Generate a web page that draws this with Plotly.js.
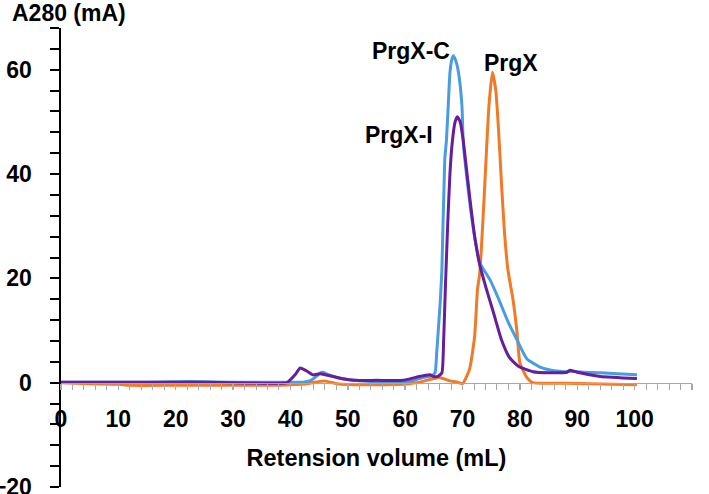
<!DOCTYPE html>
<html><head><meta charset="utf-8">
<script src="https://cdn.plot.ly/plotly-3.0.1.min.js"></script>
<style>html,body{margin:0;padding:0;background:#fff}</style>
</head><body><div id="chart" style="width:709px;height:494px"></div>
<script>
// Retention volume (mL) and A280 (mA) for each construct
const prgxC_x = [0,5,10,15,20,25,30,35,40,42.2,43.5,44.5,45.2,45.7,46.5,48.1,50,53.9,57,60.8,63.1,64.6,65.2,65.5,66.1,66.4,66.9,67.2,67.5,67.8,68.1,68.4,68.8,69.3,69.9,70.1,70.4,71.2,72.1,73.0,74.8,76.5,78.0,79.5,81.2,83.5,85.5,88.2,88.8,91,94,97,100.4];
const prgxC_y = [0.1,0.1,0.1,0.1,0.2,0.2,0.1,0.1,0.1,0.1,0.4,1.2,1.9,2.0,1.6,1.0,0.6,0.25,0.25,0.25,1.0,1.3,1.9,5.8,15.3,21.7,42.8,46.6,53.0,59.4,61.8,62.7,61.8,59.4,53.0,46.6,42.8,35,28,23,19.7,15.5,11.5,8.2,4.6,3.0,2.4,2.1,2.2,2.0,1.9,1.7,1.5];

const prgxI_x = [0,5,10,15,20,25,30,35,38,39.4,40.8,41.7,42.9,43.9,45.2,48.1,50.9,55,59.6,62.1,64.3,64.9,65.7,66.4,66.7,67.0,67.4,67.8,68.2,68.7,69.1,69.6,70.1,70.5,71.3,72.2,73.0,74.2,75.4,76.8,78.2,79.8,82.3,85,88.2,88.7,90,94,100.4];
const prgxI_y = [0.1,0.1,0.1,0.1,0.1,0.1,0.0,-0.1,-0.1,0.0,1.5,2.8,2.2,1.5,1.7,1.0,0.45,0.45,0.45,1.1,1.5,1.2,1.2,1.9,8,18,30,40,46,50,51,50,46.6,42.8,35.1,27.4,22.6,17.8,13.4,8.2,4.8,3.1,2.1,1.9,2.0,2.4,2.0,1.2,0.8];

const prgx_x = [0,5,10,12,20,30,38,40,42.8,43.9,45.2,46.1,48.1,53.9,60.8,63.1,65.9,67.7,69.4,70.0,71.2,72.1,72.6,73.0,73.5,74.1,74.6,75.2,75.8,76.3,76.8,77.3,77.9,78.8,79.5,80.0,81.2,82.2,88,100.4];
const prgx_y = [0,-0.2,-0.3,-0.5,-0.5,-0.5,-0.5,-0.4,-0.2,0,0.25,0.3,-0.2,-0.4,-0.2,0.25,1.0,0.4,0,-0.2,2.5,8.8,17.8,21,30,42.8,53,59.5,56,48,38,29,21.7,15.9,9.6,3.8,1.0,0,-0.1,-0.4];

const seriesNames = ['PrgX','PrgX-C','PrgX-I'];
const seriesColors = ['#f07a26','#4a9ce0','#661e9c'];
const xTickVals = [0,10,20,30,40,50,60,70,80,90,100,110];
const yTickVals = [-20,0,20,40,60];

const FONT = {family:'Liberation Sans, Arial, Helvetica, sans-serif', size:23, color:'#000', weight:'bold'};

const traces = [
  {x:prgx_x, y:prgx_y, name:seriesNames[0], line:{color:seriesColors[0]}},
  {x:prgxC_x, y:prgxC_y, name:seriesNames[1], line:{color:seriesColors[1]}},
  {x:prgxI_x, y:prgxI_y, name:seriesNames[2], line:{color:seriesColors[2]}}
].map(t => Object.assign(t, {type:'scatter', mode:'lines', line:Object.assign(t.line,{width:3, shape:'spline', smoothing:0.5}), hoverinfo:'skip'}));

const layout = {
  width:709, height:494,
  margin:{l:61, r:17, t:28, b:7},
  paper_bgcolor:'#fff', plot_bgcolor:'#fff',
  showlegend:false,
  title:{text:'A280 (mA)', font:Object.assign({}, FONT, {size:23}), x:12/709, xanchor:'left', y:1-12.5/494, yanchor:'middle'},
  xaxis:{
    range:[0,110], anchor:'free', position:20/88,
    showline:true, linecolor:'#a8a8a8', linewidth:1.5,
    ticks:'outside', ticklen:6, tickwidth:1.5, tickcolor:'#a8a8a8',
    tickmode:'array', tickvals:xTickVals,
    minor:{tick0:0, dtick:2, ticks:'outside', ticklen:6, tickwidth:1, tickcolor:'#a8a8a8'},
    showgrid:false, zeroline:false, tickfont:FONT, ticklabelstandoff:9,
    title:{text:'Retension volume (mL)', font:Object.assign({}, FONT, {size:23.5}), standoff:19}
  },
  yaxis:{
    range:[-20,68],
    showline:true, linecolor:'#000', linewidth:2.5,
    ticks:'outside', ticklen:9, tickwidth:2, tickcolor:'#000',
    tickmode:'array', tickvals:yTickVals, ticklabeloverflow:'allow',
    minor:{tick0:0, dtick:4, ticks:'outside', ticklen:9, tickwidth:2, tickcolor:'#000'},
    showgrid:false, zeroline:false, tickfont:FONT, ticklabelstandoff:13
  },
  annotations:[
    {text:'PrgX-C', x:61.0, y:63.5, xref:'x', yref:'y', showarrow:false, font:FONT},
    {text:'PrgX-I', x:58.9, y:47.5, xref:'x', yref:'y', showarrow:false, font:FONT},
    {text:'PrgX', x:78.5, y:61.2, xref:'x', yref:'y', showarrow:false, font:FONT}
  ]
};

Plotly.newPlot('chart', traces, layout, {displayModeBar:false, staticPlot:true});
</script>
</body></html>
